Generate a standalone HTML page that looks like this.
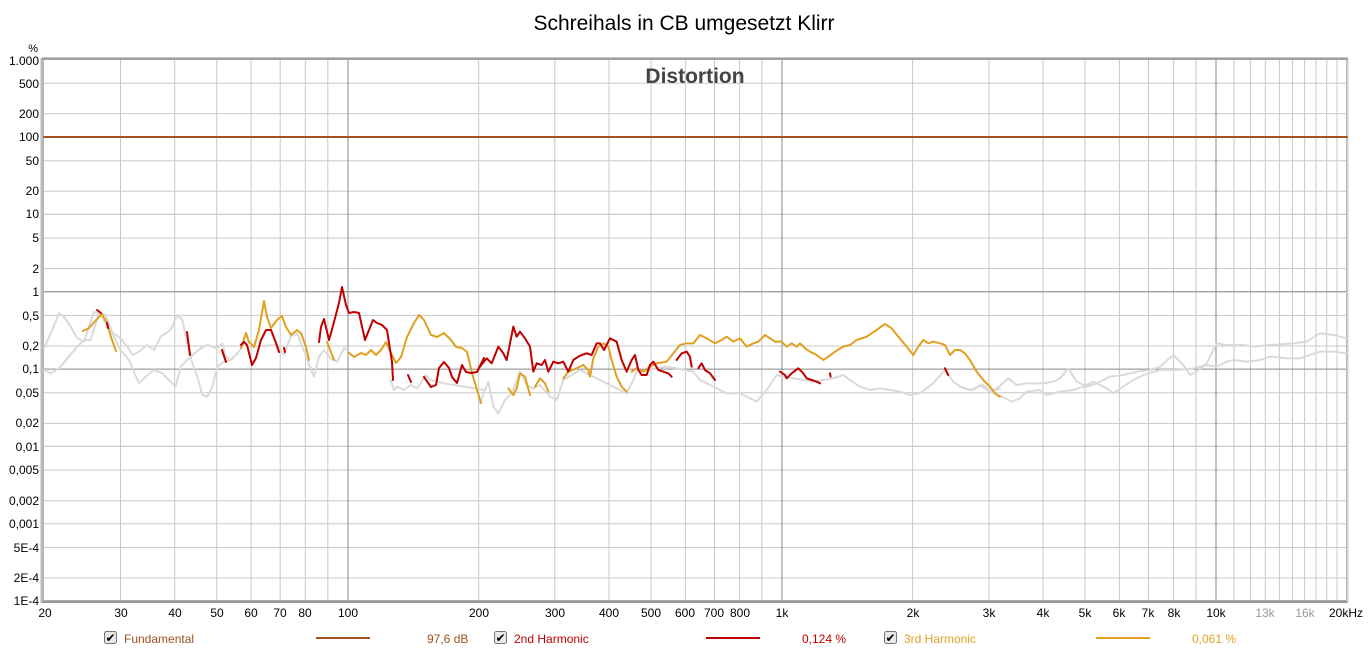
<!DOCTYPE html>
<html><head><meta charset="utf-8"><style>
body{margin:0;background:#fff;width:1369px;height:658px;overflow:hidden;font-family:"Liberation Sans",sans-serif}
</style></head><body>
<svg width="1369" height="658" xmlns="http://www.w3.org/2000/svg" font-family="Liberation Sans, sans-serif">
<text x="684" y="30" font-size="21" text-anchor="middle" fill="#000">Schreihals in CB umgesetzt Klirr</text>
<g stroke="#c8c8c8" stroke-width="1" id="grid">
<!-- horizontal -->
<line x1="44" x2="1347" y1="83.3" y2="83.3"/><line x1="44" x2="1347" y1="113.8" y2="113.8"/>
<line x1="44" x2="1347" y1="160.7" y2="160.7"/><line x1="44" x2="1347" y1="191.2" y2="191.2"/>
<line x1="44" x2="1347" y1="214.4" y2="214.4"/><line x1="44" x2="1347" y1="238.1" y2="238.1"/><line x1="44" x2="1347" y1="268.6" y2="268.6"/>
<line x1="44" x2="1347" y1="291.7" y2="291.7"/><line x1="44" x2="1347" y1="315.4" y2="315.4"/><line x1="44" x2="1347" y1="346" y2="346"/>
<line x1="44" x2="1347" y1="392.8" y2="392.8"/><line x1="44" x2="1347" y1="423.4" y2="423.4"/>
<line x1="44" x2="1347" y1="446.4" y2="446.4"/><line x1="44" x2="1347" y1="470.1" y2="470.1"/><line x1="44" x2="1347" y1="500.7" y2="500.7"/>
<line x1="44" x2="1347" y1="523.8" y2="523.8"/><line x1="44" x2="1347" y1="547.5" y2="547.5"/><line x1="44" x2="1347" y1="578" y2="578"/>
<!-- vertical -->
<line x1="120.5" x2="120.5" y1="60" y2="601"/><line x1="174.7" x2="174.7" y1="60" y2="601"/><line x1="216.8" x2="216.8" y1="60" y2="601"/>
<line x1="251.1" x2="251.1" y1="60" y2="601"/><line x1="280.2" x2="280.2" y1="60" y2="601"/><line x1="305.4" x2="305.4" y1="60" y2="601"/><line x1="327.8" x2="327.8" y1="60" y2="601"/>
<line x1="478.6" x2="478.6" y1="60" y2="601"/><line x1="554.8" x2="554.8" y1="60" y2="601"/><line x1="609" x2="609" y1="60" y2="601"/><line x1="651" x2="651" y1="60" y2="601"/>
<line x1="685.4" x2="685.4" y1="60" y2="601"/><line x1="714.5" x2="714.5" y1="60" y2="601"/><line x1="739.6" x2="739.6" y1="60" y2="601"/><line x1="761.8" x2="761.8" y1="60" y2="601"/>
<line x1="912.6" x2="912.6" y1="60" y2="601"/><line x1="989" x2="989" y1="60" y2="601"/><line x1="1043" x2="1043" y1="60" y2="601"/><line x1="1085" x2="1085" y1="60" y2="601"/>
<line x1="1119.4" x2="1119.4" y1="60" y2="601"/><line x1="1148.5" x2="1148.5" y1="60" y2="601"/><line x1="1173.6" x2="1173.6" y1="60" y2="601"/><line x1="1195.9" x2="1195.9" y1="60" y2="601"/>
<line x1="1234" x2="1234" y1="60" y2="601"/><line x1="1250.4" x2="1250.4" y1="60" y2="601"/><line x1="1265.4" x2="1265.4" y1="60" y2="601"/><line x1="1279.4" x2="1279.4" y1="60" y2="601"/>
<line x1="1292.4" x2="1292.4" y1="60" y2="601"/><line x1="1304.6" x2="1304.6" y1="60" y2="601"/><line x1="1316" x2="1316" y1="60" y2="601"/><line x1="1326.8" x2="1326.8" y1="60" y2="601"/><line x1="1337" x2="1337" y1="60" y2="601"/>
</g>
<g stroke="#888" stroke-width="1">
<line x1="44" x2="1347" y1="137" y2="137"/><line x1="44" x2="1347" y1="214.4" y2="214.4" stroke="#c8c8c8"/>
<line x1="44" x2="1347" y1="291.7" y2="291.7"/><line x1="44" x2="1347" y1="369.1" y2="369.1"/><line x1="44" x2="1347" y1="446.4" y2="446.4" stroke="#c8c8c8"/>
<line x1="348" x2="348" y1="60" y2="601"/><line x1="782" x2="782" y1="60" y2="601"/><line x1="1216" x2="1216" y1="60" y2="601"/>
</g>
<rect x="43.5" y="59.5" width="1303" height="541" fill="none" stroke="#aaa" stroke-width="1"/>
<line x1="42" y1="58" x2="42" y2="603" stroke="#bbb" stroke-width="3"/>
<line x1="42" y1="602" x2="1348" y2="602" stroke="#999" stroke-width="2"/>
<line x1="1347.5" y1="58" x2="1347.5" y2="602" stroke="#ccc" stroke-width="2"/>
<line x1="42" y1="58.5" x2="1348" y2="58.5" stroke="#999" stroke-width="2"/>
<text x="695" y="83" font-size="21" font-weight="bold" text-anchor="middle" fill="#444">Distortion</text>

<g fill="none" stroke-linejoin="round" stroke-linecap="round">
<!-- grey -->
<g stroke="#dadada" stroke-width="2">
<polyline transform="translate(44,280) scale(0.3333)" vector-effect="non-scaling-stroke" points="0,205 20,160 45,100 60,110 80,140 100,175 120,185 150,95 170,105 200,155 230,175 250,200 265,225 285,215 310,195 330,210 350,170 380,150 400,105 415,120 430,190 445,250 460,290 475,345 490,350 505,320 520,260 540,245 560,240 580,220 600,195 620,200 700,195 720,225 740,170 760,160 790,240 810,290 825,230 840,210 860,235 880,245 900,205 910,210"/>
<polyline transform="translate(44,280) scale(0.3333)" vector-effect="non-scaling-stroke" points="0,270 20,280 45,265 70,235 100,200 120,180 140,180 165,100 185,105 210,170 230,210 255,240 285,310 305,290 330,270 355,280 375,300 395,320 410,260 440,230 470,205 490,195 505,200 520,205 535,190 545,230 560,240 580,220"/>
<polyline transform="translate(44,280) scale(0.3333)" vector-effect="non-scaling-stroke" points="1040,300 1050,330 1060,320 1080,330 1100,315 1120,325 1145,285 1160,300 1200,310 1260,320 1320,330"/>
<polyline transform="translate(480,300) scale(0.3333)" vector-effect="non-scaling-stroke" points="0,310 25,245 40,320 55,340 75,300 95,280 120,215 140,255 160,265 180,255 210,290 230,300 250,240 300,210 440,280 460,240 470,215 560,200 640,215 660,240 700,260 740,280 780,280 800,290 830,305 860,270 890,225 910,230 1000,245 1030,240 1060,235 1090,225 1110,240 1140,260 1170,270 1200,265 1230,270 1260,275 1290,285 1320,280 1360,250 1395,210 1420,245 1450,265 1480,270 1500,255 1530,275 1560,265"/>
<polyline transform="translate(960,300) scale(0.3333)" vector-effect="non-scaling-stroke" points="0,260 30,270 70,255 90,275 110,265 145,235 170,255 200,250 250,250 280,245 300,235 325,205 350,245 380,260 410,250 450,230 490,225 530,215 570,210 600,200 640,165 670,195 690,225 710,215 740,190 765,140 770,130 800,135 850,135 880,140 930,135 1000,130 1040,125 1080,100 1120,105 1160,115"/>
<polyline transform="translate(960,300) scale(0.3333)" vector-effect="non-scaling-stroke" points="90,275 125,290 155,305 180,295 200,275 240,270 260,285 300,275 340,270 370,260 400,245 440,265 460,280 490,260 520,240 550,225 600,210 650,210 700,205 740,195 770,200 800,185 820,180 860,185 900,180 930,170 980,175 1020,175 1080,155 1120,155 1160,160"/>
</g>
<!-- fundamental -->
<line x1="44" x2="1347" y1="137" y2="137" stroke="#a0521f" stroke-width="2"/>
<!-- 3rd harmonic -->
<g stroke="#e0a020" stroke-width="2">
<polyline points="83,331 89,328 97,319 102,314 107,323 111,337 116,351"/>
<polyline points="241,348 246,333 249,342 254,347 259,330 264,301 267,317 271,328 277,320 282,316 286,327 291,335 297,330 301,333 306,347 309,360"/>
<polyline points="327,342 334,360"/>
<polyline points="349,353 354,357 361,353 366,355 371,350 376,355 381,350 386,342 391,353 396,363 401,357 407,337 414,323 419,315 424,320 431,335 437,337 444,333 451,340 456,347 462,348 467,352 472,373 477,390 481,403"/>
<polyline transform="translate(480,300) scale(0.3333)" vector-effect="non-scaling-stroke" points="85,265 100,285 110,265 120,220 135,230 150,285"/>
<polyline transform="translate(480,300) scale(0.3333)" vector-effect="non-scaling-stroke" points="165,260 180,235 195,250 205,275"/>
<polyline transform="translate(480,300) scale(0.3333)" vector-effect="non-scaling-stroke" points="250,235 265,215 290,205 310,195 325,210 330,230 340,175 355,140 370,130 385,140 395,180 410,230 425,260 440,275"/>
<polyline transform="translate(480,300) scale(0.3333)" vector-effect="non-scaling-stroke" points="455,215 470,205 490,215 510,200 530,190 560,185 580,160 600,135 620,130 640,130 660,105 680,115 705,130 725,120 740,110 760,125 780,115 800,140 820,130 835,125 855,105 870,115 885,125 905,125 920,140 935,130 950,140 960,130 975,145 990,155 1010,165 1030,180 1045,170 1065,155 1090,140 1110,135 1130,120 1160,110 1190,90 1215,72 1235,85 1255,110 1280,140 1300,165 1315,140 1330,120 1345,130 1360,125 1380,130 1395,135 1410,165 1425,150 1440,150 1455,160 1470,180 1490,215 1510,240 1530,260 1545,280 1560,290"/>
</g>
<!-- 2nd harmonic -->
<g stroke="#c00000" stroke-width="2">
<polyline points="97,310 101,313"/><polyline points="107,323 108,328"/>
<polyline points="187,332 190,355"/><polyline points="222,350 226,362"/>
<polyline points="241,345 244,342 247,345 252,365 256,358 261,340 266,330 271,330 276,343 279,352"/>
<polyline points="284,348 285,352"/>
<polyline points="319,342 321,327 324,319 329,340 334,322 339,303 342,287 346,305 349,313 354,312 359,313 365,340 369,330 373,320 377,323 382,325 387,330 392,362 393,380"/>
<polyline points="408,375 411,382"/>
<polyline points="424,377 431,387 436,385 439,368 444,362 449,368 452,377 457,383 462,365 466,372 471,373 477,372 484,358"/>
<polyline transform="translate(480,300) scale(0.3333)" vector-effect="non-scaling-stroke" points="0,200 20,175 35,190 55,140 70,160 80,180 100,80 110,110 120,95 135,115 150,140 160,215 170,190 185,195 195,180 205,215 220,185 235,190 250,185 265,215 280,180 295,170 305,165 320,160 335,165 350,130 360,130 372,150 390,115 410,125 425,180 440,215 455,180 465,165 475,210 485,225 500,225 510,195 520,185 535,210 550,215 565,220 575,230"/>
<polyline transform="translate(480,300) scale(0.3333)" vector-effect="non-scaling-stroke" points="590,180 605,160 620,155 630,170 635,200"/>
<polyline transform="translate(480,300) scale(0.3333)" vector-effect="non-scaling-stroke" points="655,205 665,190 675,210 690,220 705,240"/>
<polyline transform="translate(480,300) scale(0.3333)" vector-effect="non-scaling-stroke" points="900,215 915,225 920,235 935,220 955,205 970,220 980,235 995,240 1010,245 1020,250"/>
<polyline transform="translate(480,300) scale(0.3333)" vector-effect="non-scaling-stroke" points="1050,220 1052,230"/>
<polyline transform="translate(480,300) scale(0.3333)" vector-effect="non-scaling-stroke" points="1395,205 1405,225"/>
</g>
</g>

<g font-size="12" fill="#000" text-anchor="end">
<text x="38" y="52" font-size="11">%</text>
<text x="39" y="65">1.000</text><text x="39" y="88">500</text><text x="39" y="118">200</text><text x="39" y="141">100</text>
<text x="39" y="165">50</text><text x="39" y="195">20</text><text x="39" y="218">10</text><text x="39" y="242">5</text>
<text x="39" y="273">2</text><text x="39" y="296">1</text><text x="39" y="320">0,5</text><text x="39" y="350">0,2</text>
<text x="39" y="373">0,1</text><text x="39" y="397">0,05</text><text x="39" y="427">0,02</text><text x="39" y="451">0,01</text>
<text x="39" y="474">0,005</text><text x="39" y="505">0,002</text><text x="39" y="528">0,001</text><text x="39" y="552">5E-4</text>
<text x="39" y="582">2E-4</text><text x="39" y="605">1E-4</text>
</g>
<g font-size="12" fill="#000" text-anchor="middle">
<text x="45" y="617">20</text><text x="121" y="617">30</text><text x="175" y="617">40</text><text x="217" y="617">50</text>
<text x="251" y="617">60</text><text x="280" y="617">70</text><text x="305" y="617">80</text><text x="348" y="617">100</text>
<text x="479" y="617">200</text><text x="555" y="617">300</text><text x="609" y="617">400</text><text x="651" y="617">500</text>
<text x="685" y="617">600</text><text x="714" y="617">700</text><text x="740" y="617">800</text><text x="782" y="617">1k</text>
<text x="913" y="617">2k</text><text x="989" y="617">3k</text><text x="1043" y="617">4k</text><text x="1085" y="617">5k</text>
<text x="1119" y="617">6k</text><text x="1148" y="617">7k</text><text x="1174" y="617">8k</text><text x="1216" y="617">10k</text>
<text x="1265" y="617" fill="#999">13k</text><text x="1305" y="617" fill="#999">16k</text><text x="1346" y="617">20kHz</text>
</g>
<g font-size="12">
<rect x="104.5" y="631.5" width="12" height="12" rx="2" fill="#e8e8e8" stroke="#777"/><text x="105.5" y="642" font-size="12" fill="#000">✔</text>
<text x="124" y="643" fill="#a0521f">Fundamental</text>
<line x1="316" x2="370" y1="638" y2="638" stroke="#a0521f" stroke-width="2"/>
<text x="427" y="643" fill="#a0521f">97,6 dB</text>
<rect x="494.5" y="631.5" width="12" height="12" rx="2" fill="#e8e8e8" stroke="#777"/><text x="495.5" y="642" fill="#000">✔</text>
<text x="514" y="643" fill="#c00000">2nd Harmonic</text>
<line x1="706" x2="760" y1="638" y2="638" stroke="#c00000" stroke-width="2"/>
<text x="802" y="643" fill="#c00000">0,124 %</text>
<rect x="884.5" y="631.5" width="12" height="12" rx="2" fill="#e8e8e8" stroke="#777"/><text x="885.5" y="642" fill="#000">✔</text>
<text x="904" y="643" fill="#e0a020">3rd Harmonic</text>
<line x1="1096" x2="1150" y1="638" y2="638" stroke="#e0a020" stroke-width="2"/>
<text x="1192" y="643" fill="#e0a020">0,061 %</text>
</g>
</svg>
</body></html>
